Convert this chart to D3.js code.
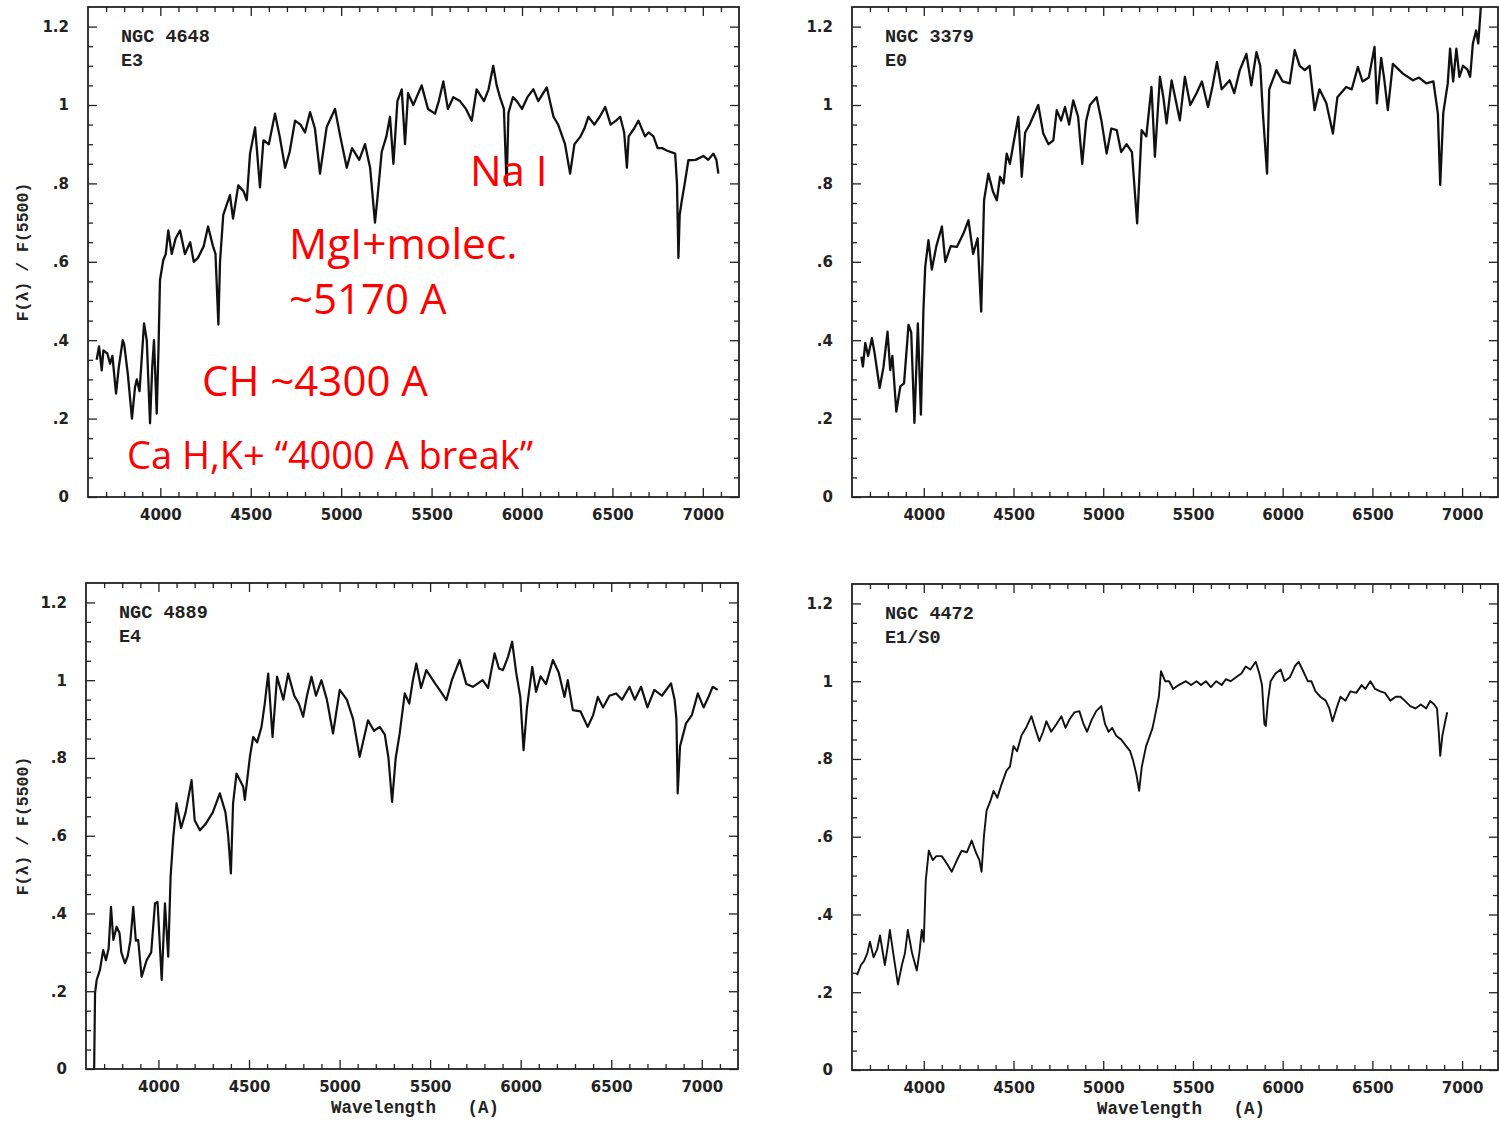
<!DOCTYPE html>
<html><head><meta charset="utf-8">
<script src="https://cdn.jsdelivr.net/npm/d3@7"></script>
<style>
html,body{margin:0;padding:0;background:#fff;}
svg{display:block;}
</style></head>
<body>
<svg id="chart" width="1499" height="1122"></svg>
<script>
// ---------------- DATA ----------------
const xMajorTicks = [4000, 4500, 5000, 5500, 6000, 6500, 7000];
const yMajorTicks = [0, 0.2, 0.4, 0.6, 0.8, 1, 1.2];
const galaxyNames = ["NGC 4648", "NGC 3379", "NGC 4889", "NGC 4472"];
const galaxyTypes = ["E3", "E0", "E4", "E1/S0"];
const yTitle = "F(\u03bb) / F(5500)";
const xTitle = "Wavelength   (A)";
const annotations = ["Na I", "MgI+molec.", "~5170 A", "CH ~4300 A", "Ca H,K+ \u201c4000 A break\u201d"];

const ngc4648 = [[3648,.35],[3661,.384],[3676,.323],[3685,.374],[3707,.366],[3722,.34],[3735,.36],[3755,.264],[3770,.33],[3792,.40],[3800,.39],[3820,.315],[3843,.20],[3860,.28],[3870,.30],[3885,.27],[3910,.443],[3925,.40],[3943,.188],[3955,.33],[3965,.40],[3980,.213],[3990,.38],[3998,.553],[4016,.604],[4030,.62],[4044,.68],[4063,.62],[4085,.66],[4109,.68],[4136,.62],[4165,.65],[4185,.60],[4208,.61],[4240,.64],[4264,.69],[4291,.64],[4305,.62],[4321,.44],[4330,.60],[4348,.72],[4385,.77],[4402,.71],[4431,.795],[4460,.78],[4478,.757],[4496,.876],[4524,.943],[4551,.79],[4570,.91],[4600,.90],[4634,.978],[4660,.92],[4690,.84],[4715,.88],[4745,.96],[4775,.95],[4800,.93],[4828,.982],[4855,.94],[4883,.825],[4920,.944],[4966,.99],[4995,.92],[5031,.84],[5060,.89],[5100,.86],[5132,.90],[5160,.84],[5187,.70],[5200,.76],[5224,.88],[5250,.92],[5270,.97],[5289,.85],[5311,1.01],[5335,1.04],[5353,.90],[5370,1.03],[5399,1.00],[5445,1.05],[5480,.99],[5519,.978],[5540,1.01],[5565,1.06],[5590,.99],[5620,1.02],[5657,1.01],[5690,.99],[5722,.96],[5749,1.04],[5790,1.01],[5815,1.04],[5841,1.10],[5860,1.05],[5878,1.02],[5900,.99],[5915,.795],[5925,.98],[5950,1.02],[5971,1.01],[6000,.99],[6030,1.02],[6063,1.04],[6090,1.01],[6137,1.045],[6174,.97],[6200,.95],[6238,.90],[6266,.825],[6290,.90],[6321,.918],[6345,.94],[6367,.97],[6400,.95],[6430,.97],[6460,.995],[6490,.95],[6520,.96],[6543,.97],[6565,.93],[6580,.84],[6590,.92],[6620,.94],[6644,.96],[6680,.92],[6700,.93],[6727,.92],[6750,.89],[6775,.89],[6800,.884],[6847,.876],[6857,.80],[6865,.61],[6872,.72],[6884,.757],[6900,.80],[6920,.859],[6960,.86],[7003,.87],[7030,.86],[7058,.876],[7075,.86],[7086,.825]];

const ngc3379 = [[3652,.358],[3661,.333],[3674,.393],[3690,.36],[3711,.405],[3725,.37],[3754,.278],[3775,.33],[3798,.422],[3813,.324],[3825,.36],[3847,.218],[3869,.282],[3890,.29],[3915,.439],[3930,.42],[3948,.189],[3967,.443],[3984,.21],[3998,.477],[4008,.587],[4026,.655],[4045,.58],[4070,.64],[4101,.69],[4120,.60],[4150,.64],[4184,.638],[4221,.672],[4249,.706],[4275,.62],[4300,.66],[4320,.473],[4336,.757],[4360,.825],[4385,.78],[4407,.757],[4425,.817],[4445,.80],[4462,.876],[4480,.85],[4499,.90],[4527,.97],[4546,.817],[4565,.93],[4592,.952],[4638,1.00],[4666,.927],[4695,.90],[4722,.91],[4741,.987],[4765,.96],[4787,.995],[4810,.95],[4833,1.012],[4860,.97],[4883,.85],[4905,.96],[4926,1.00],[4963,1.02],[4990,.96],[5019,.876],[5045,.94],[5075,.936],[5100,.88],[5130,.90],[5160,.88],[5189,.698],[5214,.936],[5240,.92],[5269,1.046],[5288,.868],[5316,1.072],[5335,1.02],[5353,.953],[5381,1.063],[5405,1.01],[5427,.961],[5455,1.072],[5485,1.00],[5520,1.03],[5550,1.06],[5584,.995],[5610,1.05],[5634,1.11],[5660,1.04],[5705,1.063],[5730,1.03],[5761,1.089],[5798,1.13],[5825,1.05],[5854,1.135],[5875,1.10],[5890,.978],[5913,.825],[5925,1.04],[5965,1.089],[6000,1.06],[6039,1.055],[6067,1.14],[6095,1.10],[6123,1.089],[6150,1.10],[6178,.987],[6205,1.04],[6243,1.005],[6280,.927],[6305,1.02],[6354,1.046],[6385,1.04],[6419,1.097],[6445,1.06],[6480,1.07],[6512,1.148],[6525,1.004],[6549,1.12],[6565,1.07],[6586,.987],[6614,1.105],[6670,1.08],[6726,1.063],[6760,1.07],[6800,1.055],[6840,1.06],[6865,.978],[6878,.796],[6895,.98],[6920,1.055],[6933,1.144],[6950,1.06],[6968,1.144],[6985,1.072],[7005,1.10],[7030,1.09],[7045,1.072],[7060,1.157],[7078,1.19],[7090,1.157],[7106,1.26]];

const ngc4889 = [[3645,0.0],[3650,.195],[3659,.229],[3677,.255],[3695,.306],[3710,.28],[3725,.31],[3738,.417],[3751,.332],[3769,.366],[3785,.35],[3795,.30],[3815,.272],[3830,.29],[3845,.33],[3861,.417],[3875,.33],[3888,.332],[3907,.237],[3935,.28],[3960,.30],[3981,.426],[3995,.43],[4018,.229],[4036,.426],[4054,.289],[4067,.494],[4082,.597],[4100,.683],[4125,.62],[4150,.66],[4183,.743],[4200,.64],[4229,.614],[4260,.63],[4300,.66],[4339,.709],[4370,.66],[4385,.60],[4400,.503],[4412,.683],[4431,.76],[4468,.726],[4477,.692],[4505,.803],[4523,.854],[4545,.84],[4569,.88],[4587,.94],[4606,1.017],[4630,.854],[4655,1.009],[4690,.95],[4716,1.017],[4750,.96],[4775,.94],[4799,.906],[4820,.96],[4845,1.009],[4870,.96],[4900,1.0],[4930,.95],[4964,.863],[5001,.975],[5040,.95],[5075,.90],[5111,.803],[5157,.897],[5190,.87],[5222,.88],[5250,.86],[5270,.80],[5290,.687],[5310,.80],[5332,.863],[5360,.966],[5385,.94],[5405,1.0],[5424,1.043],[5450,.98],[5479,1.026],[5530,.99],[5560,.97],[5590,.949],[5620,1.0],[5663,1.052],[5700,.99],[5736,.983],[5790,1.0],[5820,.98],[5856,1.069],[5880,1.03],[5902,1.026],[5930,1.06],[5953,1.099],[5975,1.02],[5998,.957],[6016,.82],[6035,.93],[6064,1.034],[6085,.97],[6110,1.01],[6140,.99],[6178,1.052],[6210,1.02],[6242,.957],[6260,1.0],[6288,.923],[6330,.92],[6370,.88],[6400,.91],[6426,.957],[6455,.93],[6490,.96],[6527,.966],[6560,.95],[6601,.983],[6630,.95],[6665,.983],[6700,.93],[6738,.975],[6780,.96],[6830,.992],[6850,.95],[6860,.90],[6867,.709],[6880,.83],[6913,.889],[6945,.91],[6978,.966],[7010,.93],[7040,.96],[7060,.983],[7088,.975]];

const ngc4472 = [[3628,.244],[3650,.27],[3667,.28],[3685,.30],[3700,.33],[3720,.29],[3740,.31],[3756,.346],[3783,.27],[3800,.32],[3811,.36],[3830,.30],[3856,.22],[3878,.27],[3895,.30],[3911,.36],[3935,.30],[3961,.256],[3975,.30],[3989,.36],[4000,.33],[4011,.487],[4028,.564],[4050,.54],[4070,.55],[4100,.55],[4130,.53],[4156,.51],[4185,.54],[4211,.564],[4240,.56],[4267,.59],[4290,.56],[4310,.54],[4322,.51],[4335,.60],[4350,.667],[4370,.69],[4389,.718],[4410,.70],[4430,.73],[4461,.77],[4480,.78],[4500,.833],[4520,.82],[4544,.86],[4570,.88],[4600,.91],[4620,.88],[4644,.846],[4665,.87],[4683,.897],[4710,.87],[4740,.89],[4767,.91],[4790,.88],[4810,.90],[4840,.92],[4867,.923],[4890,.89],[4910,.87],[4935,.90],[4961,.923],[4989,.936],[5010,.89],[5030,.87],[5050,.88],[5072,.86],[5100,.85],[5128,.833],[5150,.82],[5167,.795],[5185,.76],[5200,.718],[5215,.78],[5239,.833],[5260,.86],[5275,.88],[5294,.923],[5310,.96],[5322,1.026],[5345,1.0],[5367,1.0],[5390,.98],[5420,.99],[5461,1.0],[5490,.99],[5520,1.0],[5545,.99],[5572,1.0],[5600,.985],[5630,1.0],[5660,.99],[5683,1.005],[5710,1.0],[5740,1.01],[5770,1.02],[5794,1.038],[5820,1.03],[5850,1.05],[5870,1.02],[5885,.99],[5898,.89],[5906,.885],[5918,.95],[5933,1.0],[5960,1.02],[5989,1.03],[6010,1.0],[6040,1.01],[6070,1.04],[6089,1.05],[6110,1.03],[6140,1.0],[6160,1.0],[6183,.974],[6210,.96],[6240,.95],[6260,.93],[6278,.897],[6300,.93],[6322,.96],[6350,.95],[6378,.974],[6410,.97],[6440,.99],[6460,.98],[6489,1.0],[6515,.98],[6544,.974],[6570,.97],[6600,.95],[6630,.96],[6656,.96],[6680,.95],[6711,.936],[6740,.93],[6770,.94],[6800,.93],[6822,.949],[6845,.94],[6860,.93],[6870,.87],[6878,.808],[6890,.86],[6906,.897],[6917,.92]];

const spectra = [ngc4648, ngc3379, ngc4889, ngc4472];

// ---------------- LAYOUT ----------------
const panels = [
  {x0: 88,  x1: 739,  y0: 7,   y1: 497,  yTitle: true,  xTitle: false, lw: 2.3},
  {x0: 852, x1: 1498, y0: 7,   y1: 497,  yTitle: false, xTitle: false, lw: 2.3},
  {x0: 86,  x1: 738,  y0: 583, y1: 1069, yTitle: true,  xTitle: true,  lw: 2.2},
  {x0: 852, x1: 1498, y0: 584, y1: 1070, yTitle: false, xTitle: true,  lw: 1.9}
];
const xDomain = [3600, 7200];
const yDomain = [0, 1.25];
const xMinor = d3.range(3700, 7200, 100).filter(v => v % 500 !== 0);
const yMinor = d3.range(0.05, 1.25, 0.05).map(v => +v.toFixed(2)).filter(v => Math.abs(v*5 - Math.round(v*5)) > 1e-6);

const svg = d3.select("#chart");
const monoFont = "'Liberation Mono', 'DejaVu Sans Mono', monospace";
const tickFont = "'DejaVu Sans', sans-serif";
const yFmt = d => d === 0 ? "0" : d3.format(".1~f")(d).replace(/^0\./, ".");

panels.forEach((p, i) => {
  const x = d3.scaleLinear().domain(xDomain).range([p.x0, p.x1]);
  const y = d3.scaleLinear().domain(yDomain).range([p.y1, p.y0]);
  const g = svg.append("g");

  const cid = "clip" + i;
  svg.append("clipPath").attr("id", cid).append("rect")
    .attr("x", p.x0).attr("y", p.y0).attr("width", p.x1 - p.x0).attr("height", p.y1 - p.y0);

  const line = d3.line().x(d => x(d[0])).y(d => y(d[1]));
  g.append("path").datum(spectra[i])
    .attr("clip-path", `url(#${cid})`)
    .attr("d", line)
    .attr("fill", "none").attr("stroke", "#111").attr("stroke-width", p.lw)
    .attr("stroke-linejoin", "round");

  const styleAxis = sel => {
    sel.select(".domain").remove();
    sel.selectAll("line").attr("stroke", "#222").attr("stroke-width", 1.3);
  };
  g.append("g").attr("transform", `translate(0,${p.y1})`)
    .call(d3.axisBottom(x).tickValues(xMajorTicks).tickSize(-9).tickPadding(12).tickFormat(d3.format("d")))
    .call(styleAxis)
    .selectAll("text").attr("font-family", tickFont).attr("font-weight", "bold").attr("font-size", 15).attr("fill", "#222");
  g.append("g").attr("transform", `translate(0,${p.y1})`)
    .call(d3.axisBottom(x).tickValues(xMinor).tickSize(-5).tickFormat(""))
    .call(styleAxis);
  g.append("g").attr("transform", `translate(0,${p.y0})`)
    .call(d3.axisTop(x).tickValues(xMajorTicks).tickSize(-9).tickFormat(""))
    .call(styleAxis);
  g.append("g").attr("transform", `translate(0,${p.y0})`)
    .call(d3.axisTop(x).tickValues(xMinor).tickSize(-5).tickFormat(""))
    .call(styleAxis);
  g.append("g").attr("transform", `translate(${p.x0},0)`)
    .call(d3.axisLeft(y).tickValues(yMajorTicks).tickSize(-9).tickPadding(19).tickFormat(yFmt))
    .call(styleAxis)
    .selectAll("text").attr("font-family", tickFont).attr("font-weight", "bold").attr("font-size", 15).attr("fill", "#222");
  g.append("g").attr("transform", `translate(${p.x0},0)`)
    .call(d3.axisLeft(y).tickValues(yMinor).tickSize(-5).tickFormat(""))
    .call(styleAxis);
  g.append("g").attr("transform", `translate(${p.x1},0)`)
    .call(d3.axisRight(y).tickValues(yMajorTicks).tickSize(-9).tickFormat(""))
    .call(styleAxis);
  g.append("g").attr("transform", `translate(${p.x1},0)`)
    .call(d3.axisRight(y).tickValues(yMinor).tickSize(-5).tickFormat(""))
    .call(styleAxis);

  g.append("rect").attr("x", p.x0).attr("y", p.y0)
    .attr("width", p.x1 - p.x0).attr("height", p.y1 - p.y0)
    .attr("fill", "none").attr("stroke", "#222").attr("stroke-width", 1.8);

  g.append("text").attr("x", p.x0 + 33).attr("y", p.y0 + 35)
    .attr("font-family", monoFont).attr("font-weight", "bold").attr("font-size", 18.5).attr("fill", "#222")
    .text(galaxyNames[i]);
  g.append("text").attr("x", p.x0 + 33).attr("y", p.y0 + 59)
    .attr("font-family", monoFont).attr("font-weight", "bold").attr("font-size", 18.5).attr("fill", "#222")
    .text(galaxyTypes[i]);

  if (p.yTitle) {
    const cy = (p.y0 + p.y1) / 2;
    g.append("text").attr("transform", `translate(28,${cy}) rotate(-90)`)
      .attr("text-anchor", "middle")
      .attr("font-family", monoFont).attr("font-weight", "bold").attr("font-size", 16.5).attr("fill", "#222")
      .text(yTitle);
  }
  if (p.xTitle) {
    g.append("text").attr("x", p.x0 + 245).attr("y", p.y1 + 44)
      .attr("font-family", monoFont).attr("font-weight", "bold").attr("font-size", 17.5).attr("fill", "#222")
      .attr("xml:space", "preserve").style("white-space", "pre")
      .text(xTitle);
  }
});

const annoPos = [[470, 186], [289, 259], [289, 314], [202, 396], [127, 469]];
const annoSize = [42, 42.5, 42, 42, 38];
const ag = svg.append("g");
annotations.forEach((t, i) => {
  ag.append("text").attr("x", annoPos[i][0]).attr("y", annoPos[i][1])
    .attr("font-family", "'Open Sans', 'Lato', sans-serif").attr("font-size", annoSize[i])
    .attr("fill", "#ff0000").text(t);
});
</script>
</body></html>
